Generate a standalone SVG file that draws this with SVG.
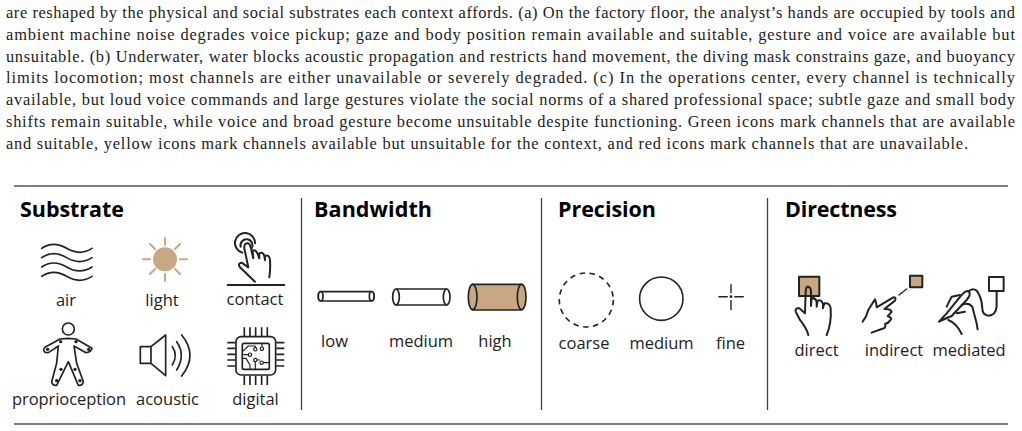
<svg xmlns="http://www.w3.org/2000/svg" width="1022" height="431" viewBox="0 0 1022 431">
<style>
.b{font-family:"Liberation Serif",serif;font-size:16.4px;fill:#1c1c1c}
.h{font-family:"Open Sans","Noto Sans",sans-serif;font-size:21.5px;font-weight:700;fill:#000}
.l{font-family:"Open Sans","Noto Sans",sans-serif;font-size:16.5px;fill:#222}
.r{stroke:#555;stroke-width:1.3;fill:none}
.d{stroke:#444;stroke-width:1.3;fill:none}
.i{fill:none;stroke:#222;stroke-width:6;stroke-linecap:round;stroke-linejoin:round}
.t{fill:#c8a882}
.w{fill:#fff}
</style>
<g id="caption">
<text class="b" x="6" y="17.5" textLength="1009" lengthAdjust="spacing">are reshaped by the physical and social substrates each context affords. (a) On the factory floor, the analyst’s hands are occupied by tools and</text>
<text class="b" x="6" y="39.5" textLength="1009" lengthAdjust="spacing">ambient machine noise degrades voice pickup; gaze and body position remain available and suitable, gesture and voice are available but</text>
<text class="b" x="6" y="61.5" textLength="1009" lengthAdjust="spacing">unsuitable. (b) Underwater, water blocks acoustic propagation and restricts hand movement, the diving mask constrains gaze, and buoyancy</text>
<text class="b" x="6" y="83.3" textLength="1009" lengthAdjust="spacing">limits locomotion; most channels are either unavailable or severely degraded. (c) In the operations center, every channel is technically</text>
<text class="b" x="6" y="105" textLength="1009" lengthAdjust="spacing">available, but loud voice commands and large gestures violate the social norms of a shared professional space; subtle gaze and small body</text>
<text class="b" x="6" y="127" textLength="1009" lengthAdjust="spacing">shifts remain suitable, while voice and broad gesture become unsuitable despite functioning. Green icons mark channels that are available</text>
<text class="b" x="6" y="149" textLength="962" lengthAdjust="spacing">and suitable, yellow icons mark channels available but unsuitable for the context, and red icons mark channels that are unavailable.</text>
</g>
<g id="frame">
<line class="r" x1="14" y1="186" x2="1008" y2="186"/>
<line class="r" x1="14" y1="424" x2="1008" y2="424"/>
<line class="d" x1="301.5" y1="198" x2="301.5" y2="410"/>
<line class="d" x1="541.5" y1="198" x2="541.5" y2="410"/>
<line class="d" x1="767.5" y1="198" x2="767.5" y2="410"/>
</g>
<g id="substrate">
<text class="h" x="20" y="217" textLength="104">Substrate</text>
<g id="air">
<g transform="translate(0,180) scale(.3333)" class="i" style="stroke-width:5">
<path d="M125 205C150 188 175 190 200 205S250 222 276 205"/>
<path d="M125 233C150 216 175 218 200 233S250 250 276 233"/>
<path d="M125 261C150 244 175 246 200 261S250 278 276 261"/>
<path d="M125 289C150 272 175 274 200 289S250 306 276 289"/>
</g>
<text class="l" x="66" y="306" text-anchor="middle">air</text>
</g>
<g id="light">
<circle class="t" cx="165" cy="259.3" r="12"/>
<g stroke="#c8a882" stroke-width="2" stroke-linecap="round">
<path d="M165 238v7M165 274v7M143 259.3h7M180 259.3h7M150 244l5 5M175 269l5 5M180 244l-5 5M155 269l-5 5"/>
</g>
<text class="l" x="162" y="306" text-anchor="middle">light</text>
</g>
<g id="contact">
<g transform="translate(0,180) scale(.3333)" class="i">
<path d="M755 205A18 18 0 1 0 722 200"/>
<path d="M765 190A30 30 0 1 0 727 218"/>
<path d="M765 305L720 262Q712 250 725 248L745 262L733 205Q732 188 745 190Q750 192 753 205L760 235L758 212Q768 208 773 222L778 235L778 220Q790 215 793 228L795 240L795 228Q808 222 810 240Q812 270 808 292"/>
<path d="M683 315H853"/>
</g>
<text class="l" x="255" y="305" text-anchor="middle">contact</text>
</g>
<g id="proprioception">
<g transform="translate(0,310) scale(.3333)" class="i" style="stroke-width:5">
<circle cx="205" cy="57" r="18"/>
<path d="M205 85L180 87L135 112Q127 120 135 127Q142 130 150 125L175 108L170 160L155 215Q157 228 170 226L205 155L235 226Q248 228 250 215L230 160L222 108L258 128Q272 128 276 115L228 87Z"/>
<g fill="#222" stroke="none"><circle cx="182" cy="95" r="5"/><circle cx="228" cy="95" r="5"/><circle cx="143" cy="118" r="5"/><circle cx="266" cy="118" r="5"/><circle cx="183" cy="178" r="5"/><circle cx="225" cy="178" r="5"/><circle cx="170" cy="212" r="5"/><circle cx="240" cy="212" r="5"/></g>
</g>
<text class="l" x="69" y="405" text-anchor="middle" textLength="114">proprioception</text>
</g>
<g id="acoustic">
<g transform="translate(0,310) scale(.3333)" class="i" style="stroke-width:5">
<path d="M421 110H453V160H421ZM453 110L497 75V197L453 160"/>
<path d="M517 110Q535 135 517 165M530 95Q558 135 530 180M545 75Q595 135 545 198"/>
</g>
<text class="l" x="167.5" y="405" text-anchor="middle" textLength="63">acoustic</text>
</g>
<g id="digital">
<g transform="translate(0,310) scale(.3333)" class="i" style="stroke-width:5;stroke-linecap:butt">
<rect x="708" y="80" width="119" height="115" rx="15"/>
<rect x="727" y="100" width="81" height="78" rx="5"/>
<path d="M733 52V78M750 52V78M767 52V78M785 52V78M802 52V78M733 197V225M750 197V225M767 197V225M785 197V225M802 197V225M682 98H706M682 115H706M682 133H706M682 150H706M682 168H706M829 98H853M829 115H853M829 133H853M829 150H853M829 168H853"/>
<g style="stroke-width:3.5">
<circle cx="766" cy="118" r="5"/><circle cx="786" cy="116" r="5"/><circle cx="750" cy="134" r="5"/><circle cx="766" cy="150" r="5"/><circle cx="785" cy="158" r="5"/>
<path d="M727 125L745 108H766V113M786 100V111M727 145H738L750 165V178M766 155V178M745 134H730M790 158H808M771 150H780"/>
</g>
</g>
<text class="l" x="255.5" y="405" text-anchor="middle">digital</text>
</g>
</g>
<g id="bandwidth">
<text class="h" x="314" y="217" textLength="118">Bandwidth</text>
<g id="bw-low">
<g transform="translate(300,180) scale(.3333)" class="i" style="stroke-width:5">
<rect class="w" x="55" y="335" width="167" height="28" rx="10"/>
<ellipse class="w" cx="62" cy="349" rx="7" ry="14"/>
<ellipse class="w" cx="215" cy="349" rx="7" ry="14"/>
</g>
<text class="l" x="334.5" y="347" text-anchor="middle">low</text>
</g>
<g id="bw-medium">
<g transform="translate(300,180) scale(.3333)" class="i" style="stroke-width:5">
<path class="w" d="M288 327H440V375H288Z"/>
<ellipse class="w" cx="288" cy="351" rx="10" ry="24"/>
<ellipse class="w" cx="440" cy="351" rx="10" ry="24"/>
</g>
<text class="l" x="421" y="347" text-anchor="middle">medium</text>
</g>
<g id="bw-high">
<g transform="translate(300,180) scale(.3333)" class="i" style="stroke-width:5">
<path class="t" d="M518 313H665V390H518Z"/>
<ellipse class="t" cx="518" cy="351" rx="13" ry="38"/>
<ellipse class="t" cx="665" cy="351" rx="13" ry="38"/>
</g>
<text class="l" x="495" y="347" text-anchor="middle">high</text>
</g>
</g>
<g id="precision">
<text class="h" x="558" y="217" textLength="98">Precision</text>
<g id="p-coarse">
<circle cx="586.3" cy="300" r="27" fill="none" stroke="#222" stroke-width="1.6" stroke-dasharray="5.5 4.5"/>
<text class="l" x="584" y="349" text-anchor="middle">coarse</text>
</g>
<g id="p-medium">
<circle cx="661.3" cy="298.7" r="21.7" fill="none" stroke="#222" stroke-width="1.6"/>
<text class="l" x="661.5" y="349" text-anchor="middle">medium</text>
</g>
<g id="p-fine">
<path d="M718.3 296.7h9.5M734.3 296.7h9.5M731 284.3v9M731 300v10" stroke="#222" stroke-width="1.4" fill="none"/>
<circle cx="731" cy="296.7" r="1.4" fill="#222"/>
<text class="l" x="730.5" y="349" text-anchor="middle">fine</text>
</g>
</g>
<g id="directness">
<text class="h" x="785" y="217" textLength="112">Directness</text>
<g id="direct">
<g transform="translate(765,180) scale(.3333)" class="i">
<rect class="t" x="102" y="290" width="61" height="58"/>
<path d="M130 465Q125 445 105 420L92 395Q90 382 103 385L120 400L122 335Q123 318 130 320Q138 322 138 335V378L140 355Q150 352 155 365V380L158 362Q170 358 174 372V385L178 370Q195 368 197 385Q200 430 185 465"/>
</g>
<text class="l" x="816.5" y="356" text-anchor="middle">direct</text>
</g>
<g id="indirect">
<g transform="translate(765,180) scale(.3333)" class="i">
<rect class="t" x="435" y="287" width="37" height="35"/>
<path d="M402 345L425 327" style="stroke-width:4"/>
<path d="M293 425Q305 410 310 390L330 358Q335 370 335 382L385 352Q395 352 390 362L358 387Q375 385 380 395Q372 405 368 408Q385 415 375 422Q370 430 360 432Q365 445 350 447L320 458"/>
</g>
<text class="l" x="894" y="356" text-anchor="middle">indirect</text>
</g>
<g id="mediated">
<g transform="translate(765,180) scale(.3333)" class="i">
<rect class="w" x="672" y="291" width="44" height="42"/>
<path d="M695 335V380Q692 407 670 407Q652 405 652 385Q650 350 635 332Q622 322 610 335"/>
<path d="M522 425L545 400L590 345Q605 328 613 335Q618 345 605 360L560 408ZM522 425L548 412"/>
<path d="M545 380L560 350L585 345M590 375Q610 365 622 380L635 430L638 448M550 420Q575 430 590 462M575 400L600 395"/>
</g>
<text class="l" x="969" y="356" text-anchor="middle">mediated</text>
</g>
</g>
</svg>
